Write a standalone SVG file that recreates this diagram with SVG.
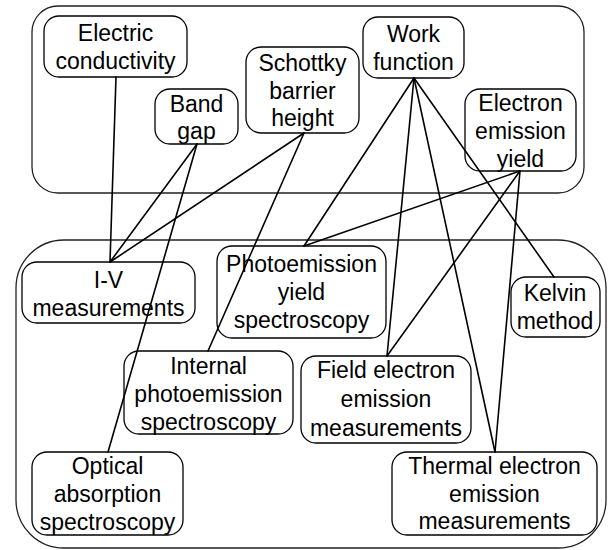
<svg xmlns="http://www.w3.org/2000/svg" width="608" height="550" viewBox="0 0 608 550">
  <style>
    .group { fill: none; stroke: #222; stroke-width: 1.3; }
    .node rect { fill: none; stroke: #000; stroke-width: 1.3; }
    .node text { font-family: "Liberation Sans", Arial, sans-serif; font-size: 23px; fill: #000; text-anchor: middle; }
    .edges line { stroke: #000; stroke-width: 1.6; stroke-linecap: round; }
  </style>
  <rect width="608" height="550" fill="#fff"/>

  <!-- properties cluster -->
  <rect id="properties" class="group" x="32" y="6" width="552" height="187" rx="26" ry="26"/>
  <!-- methods cluster -->
  <rect id="methods" class="group" x="16" y="240" width="590" height="308" rx="48" ry="48"/>

  <g id="electric-conductivity" class="node">
    <rect x="44" y="16" width="143" height="61" rx="15"/>
    <text x="115.5" y="41">Electric</text>
    <text x="115.5" y="69">conductivity</text>
  </g>
  <g id="band-gap" class="node">
    <rect x="155" y="89" width="83" height="55" rx="15"/>
    <text x="196.5" y="112">Band</text>
    <text x="196.5" y="139">gap</text>
  </g>
  <g id="schottky-barrier-height" class="node">
    <rect x="246" y="47" width="113" height="86" rx="15"/>
    <text x="302.5" y="71">Schottky</text>
    <text x="302.5" y="99">barrier</text>
    <text x="302.5" y="126">height</text>
  </g>
  <g id="work-function" class="node">
    <rect x="363" y="17" width="101" height="61" rx="15"/>
    <text x="413.5" y="42">Work</text>
    <text x="413.5" y="70">function</text>
  </g>
  <g id="electron-emission-yield" class="node">
    <rect x="465" y="89" width="111" height="82" rx="15"/>
    <text x="520.5" y="111">Electron</text>
    <text x="520.5" y="139">emission</text>
    <text x="520.5" y="167">yield</text>
  </g>

  <g id="iv-measurements" class="node">
    <rect x="22" y="262" width="173" height="61" rx="15"/>
    <text x="108.5" y="288">I-V</text>
    <text x="108.5" y="316">measurements</text>
  </g>
  <g id="photoemission-yield-spectroscopy" class="node">
    <rect x="217" y="246" width="169" height="92" rx="15"/>
    <text x="301.5" y="272">Photoemission</text>
    <text x="301.5" y="300">yield</text>
    <text x="301.5" y="328">spectroscopy</text>
  </g>
  <g id="kelvin-method" class="node">
    <rect x="511" y="277" width="89" height="60" rx="15"/>
    <text x="555" y="301">Kelvin</text>
    <text x="555" y="329">method</text>
  </g>
  <g id="internal-photoemission-spectroscopy" class="node">
    <rect x="124" y="351" width="169" height="83" rx="15"/>
    <text x="208.5" y="374">Internal</text>
    <text x="208.5" y="402">photoemission</text>
    <text x="208.5" y="430">spectroscopy</text>
  </g>
  <g id="field-electron-emission-measurements" class="node">
    <rect x="301" y="356" width="170" height="87" rx="15"/>
    <text x="386" y="378">Field electron</text>
    <text x="386" y="407">emission</text>
    <text x="386" y="436">measurements</text>
  </g>
  <g id="optical-absorption-spectroscopy" class="node">
    <rect x="32" y="452" width="151" height="83" rx="15"/>
    <text x="107.5" y="474">Optical</text>
    <text x="107.5" y="502">absorption</text>
    <text x="107.5" y="530">spectroscopy</text>
  </g>
  <g id="thermal-electron-emission-measurements" class="node">
    <rect x="392" y="452" width="205" height="83" rx="15"/>
    <text x="494.5" y="474">Thermal electron</text>
    <text x="494.5" y="502">emission</text>
    <text x="494.5" y="529">measurements</text>
  </g>

  <g id="connectors" class="edges">
    <line x1="116" y1="77" x2="110" y2="262"/>
    <line x1="197" y1="144" x2="110" y2="262"/>
    <line x1="304" y1="133" x2="110" y2="262"/>
    <line x1="197" y1="144" x2="108" y2="452"/>
    <line x1="304" y1="133" x2="208" y2="351"/>
    <line x1="414" y1="78" x2="304" y2="246"/>
    <line x1="414" y1="78" x2="387" y2="356"/>
    <line x1="414" y1="78" x2="495" y2="452"/>
    <line x1="414" y1="78" x2="554" y2="277"/>
    <line x1="520" y1="171" x2="304" y2="246"/>
    <line x1="520" y1="171" x2="387" y2="356"/>
    <line x1="520" y1="171" x2="495" y2="452"/>
  </g>
</svg>
